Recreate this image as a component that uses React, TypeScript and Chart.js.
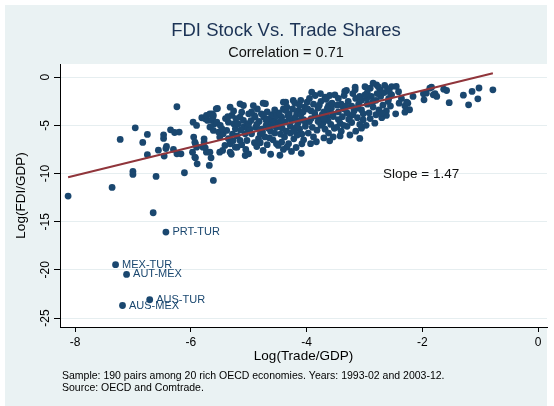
import React, { useEffect, useRef } from "react";
import { Chart, registerables } from "chart.js";

Chart.register(...registerables);

const xTickValues = [-8, -6, -4, -2, 0];
const yTickValues = [0, -5, -10, -15, -20, -25];

const labeledNames = ["PRT-TUR", "MEX-TUR", "AUT-MEX", "AUS-TUR", "AUS-MEX"];
const labeledX = [-6.43, -7.3, -7.11, -6.71, -7.18];
const labeledY = [-16.08, -19.46, -20.47, -23.1, -23.7];

const outlierPoints = [[-6.65, -14.07], [-8.12, -12.34], [-7.36, -11.44]];

const westPoints = [
  [-7.22, -6.46], [-6.96, -5.25], [-6.83, -6.77], [-6.75, -5.94], [-6.75, -8.05], [-7.0, -9.78],
  [-7.0, -10.09], [-6.6, -10.3], [-6.56, -7.57], [-6.47, -5.98], [-6.47, -6.36], [-6.42, -7.19],
  [-6.43, -7.4], [-6.46, -8.19], [-6.35, -5.46], [-6.28, -5.74], [-6.24, -3.07], [-6.2, -5.7],
  [-6.3, -7.5], [-6.24, -7.95], [-6.17, -7.95], [-6.11, -9.92], [-5.96, -4.67], [-5.9, -5.01],
  [-5.95, -6.22], [-5.92, -6.91], [-5.97, -7.78], [-5.92, -8.37], [-5.89, -8.99], [-5.81, -4.21],
  [-5.75, -4.32], [-5.71, -4.49], [-5.77, -6.4], [-5.77, -6.74], [-5.75, -7.33], [-5.73, -7.78],
  [-5.68, -9.16], [-5.65, -8.37], [-5.61, -10.72], [-5.63, -3.8], [-5.62, -4.15], [-5.54, -3.25],
  [-5.73, -3.97], [-5.67, -3.8], [-5.61, -3.97], [-5.56, -3.28], [-5.64, -4.49], [-5.59, -4.84],
  [-5.67, -5.18], [-5.61, -5.53], [-5.52, -5.7], [-5.5, -6.22], [-5.93, -8.3], [-5.79, -7.26],
  [-5.67, -7.78], [-5.5, -7.78], [-5.9, -7.26], [-5.55, -4.67], [-5.93, -6.74]
];

const band55to50 = [
  [-5.44, -5.87], [-5.38, -5.53], [-5.35, -6.39], [-5.32, -6.91], [-5.41, -7.08], [-5.32, -3.11],
  [-5.29, -3.97], [-5.35, -4.67], [-5.26, -4.84], [-5.23, -5.36], [-5.15, -2.76], [-5.09, -2.94],
  [-5.12, -3.63], [-5.15, -4.15], [-5.18, -4.84], [-5.09, -5.18], [-5.06, -5.87], [-5.03, -6.57],
  [-5.15, -6.57], [-5.2, -7.26], [-5.09, -4.49], [-5.0, -3.8], [-5.03, -4.84], [-5.32, -7.78],
  [-5.23, -7.26], [-5.06, -8.13], [-5.49, -5.01], [-5.46, -5.36], [-5.45, -7.6], [-5.3, -8.0],
  [-5.4, -4.3], [-5.28, -5.9], [-5.2, -6.1], [-5.12, -7.0], [-5.26, -3.5], [-5.05, -7.5],
  [-5.36, -4.1], [-5.22, -4.3], [-5.14, -5.5], [-5.02, -5.3], [-5.27, -6.6]
];

const band50to45 = [
  [-4.75, -2.7], [-4.78, -3.8], [-4.89, -4.15], [-4.55, -4.49], [-4.66, -4.84], [-5.0, -7.95],
  [-4.83, -6.39], [-4.95, -5.87], [-4.71, -2.75], [-4.96, -4.5], [-4.9, -4.0], [-4.82, -4.6],
  [-4.88, -5.2], [-4.78, -5.4], [-4.7, -5.0], [-4.64, -4.3], [-4.6, -3.9], [-4.55, -3.4],
  [-4.68, -3.6], [-4.85, -3.3], [-4.92, -2.95], [-4.8, -5.9], [-4.72, -6.2], [-4.62, -5.6],
  [-4.58, -6.5], [-4.68, -7.0], [-4.9, -6.8], [-4.75, -7.6], [-4.62, -8.0], [-4.52, -5.2],
  [-4.55, -5.8], [-4.98, -5.4], [-4.86, -7.2], [-4.6, -4.7], [-4.74, -4.1], [-4.52, -4.0],
  [-4.66, -5.3], [-4.95, -3.6], [-4.8, -6.8], [-5.0, -4.84], [-4.86, -4.9], [-4.7, -4.45],
  [-4.57, -5.0], [-4.76, -5.7], [-4.64, -6.3], [-4.52, -6.9]
];

const band45to40 = [
  [-4.4, -2.59], [-4.4, -3.28], [-4.23, -2.42], [-4.36, -2.6], [-4.2, -2.7], [-4.1, -2.4],
  [-4.36, -3.45], [-4.3, -3.8], [-4.14, -3.46], [-4.17, -3.8], [-4.03, -3.11], [-3.99, -2.59],
  [-4.43, -4.15], [-4.37, -4.67], [-4.31, -6.91], [-4.43, -6.74], [-4.49, -7.08], [-4.34, -7.26],
  [-4.08, -6.91], [-4.46, -8.1], [-4.09, -7.9], [-4.48, -4.9], [-4.42, -5.3], [-4.35, -5.6],
  [-4.28, -5.1], [-4.25, -4.5], [-4.2, -4.2], [-4.15, -4.8], [-4.12, -5.4], [-4.08, -5.9],
  [-4.05, -4.4], [-4.32, -4.0], [-4.38, -6.2], [-4.22, -6.4], [-4.16, -6.0], [-4.28, -5.8],
  [-4.45, -5.9], [-4.1, -3.9], [-4.02, -5.1], [-4.18, -7.3], [-4.26, -7.7], [-4.4, -7.5],
  [-4.05, -6.5], [-4.34, -3.1], [-4.47, -3.7], [-4.12, -2.9], [-4.24, -3.3], [-4.02, -4.7],
  [-4.3, -4.3], [-4.18, -5.2], [-4.06, -3.6], [-4.44, -4.5], [-4.22, -5.6], [-4.12, -4.5]
];

const band40to35 = [
  [-3.91, -1.55], [-3.68, -2.07], [-3.6, -1.9], [-3.62, -2.94], [-3.83, -6.7], [-3.54, -6.2],
  [-3.51, -1.83], [-3.54, -4.08], [-3.95, -2.2], [-3.88, -2.8], [-3.8, -3.2], [-3.75, -2.5],
  [-3.7, -3.6], [-3.92, -3.5], [-3.85, -4.0], [-3.78, -4.3], [-3.72, -4.8], [-3.65, -4.1],
  [-3.6, -3.5], [-3.56, -2.7], [-3.95, -4.6], [-3.9, -5.2], [-3.82, -5.5], [-3.75, -5.0],
  [-3.68, -5.4], [-3.62, -5.8], [-3.58, -4.9], [-3.97, -5.8], [-3.88, -6.2], [-3.7, -6.3],
  [-3.66, -2.3], [-3.85, -1.9], [-3.76, -1.7], [-3.57, -3.2], [-3.52, -5.3], [-3.98, -3.3],
  [-3.8, -4.6], [-3.63, -4.5], [-3.73, -3.9], [-3.93, -6.9], [-3.6, -6.6], [-3.86, -3.7],
  [-3.7, -4.3], [-3.55, -3.8], [-3.92, -4.3], [-3.78, -2.9], [-3.64, -3.2]
];

const band35to30 = [
  [-3.34, -1.48], [-3.16, -1.31], [-3.25, -4.08], [-3.42, -4.77], [-3.05, -5.29], [-3.02, -4.42],
  [-3.08, -6.36], [-3.31, -1.38], [-3.16, -1.04], [-3.45, -2.2], [-3.4, -2.8], [-3.35, -3.3],
  [-3.28, -2.5], [-3.22, -3.0], [-3.15, -2.2], [-3.1, -2.8], [-3.05, -3.4], [-3.45, -3.6],
  [-3.38, -4.1], [-3.3, -3.7], [-3.2, -3.9], [-3.12, -4.2], [-3.48, -5.2], [-3.4, -5.6],
  [-3.3, -5.1], [-3.22, -4.7], [-3.15, -5.6], [-3.08, -4.9], [-3.25, -6.0], [-3.42, -6.1],
  [-3.35, -1.9], [-3.2, -1.7], [-3.05, -2.4], [-3.47, -2.9], [-3.12, -3.2], [-3.27, -4.4],
  [-3.02, -3.8], [-3.38, -3.0], [-3.45, -4.4], [-3.32, -3.0], [-3.18, -3.5], [-3.08, -2.0],
  [-3.36, -5.0]
];

const band30to25 = [
  [-2.79, -0.79], [-2.85, -0.62], [-2.9, -1.14], [-2.73, -1.31], [-2.53, -0.97], [-2.53, -1.83],
  [-2.59, -2.52], [-2.82, -4.77], [-2.99, -0.99], [-2.95, -1.6], [-2.88, -2.0], [-2.8, -2.4],
  [-2.72, -2.0], [-2.66, -1.6], [-2.6, -1.2], [-2.95, -2.8], [-2.85, -3.1], [-2.75, -3.4],
  [-2.68, -2.9], [-2.62, -3.5], [-2.55, -3.0], [-2.92, -3.7], [-2.8, -3.9], [-2.7, -4.2],
  [-2.9, -4.3], [-2.97, -5.0], [-2.62, -3.97], [-2.78, -1.7], [-2.65, -0.85], [-2.96, -2.2],
  [-2.58, -2.2], [-2.99, -1.83], [-2.86, -2.6], [-2.7, -3.7], [-2.57, -1.5], [-2.76, -1.0]
];

const eastPoints = [
  [-2.4, -2.7], [-2.25, -2.7], [-2.22, -3.38], [-2.46, -3.8], [-2.41, -1.5], [-2.36, -2.2],
  [-2.3, -3.0], [-2.27, -2.6], [-2.3, -3.63], [-2.16, -2.0], [-2.45, -0.96], [-1.98, -1.72],
  [-1.97, -2.35], [-1.93, -1.66], [-1.87, -1.14], [-1.78, -1.72], [-1.81, -1.83], [-1.75, -2.0],
  [-1.84, -1.04], [-1.63, -1.24], [-1.58, -1.38], [-1.535, -2.64], [-1.29, -1.87], [-1.2, -2.87],
  [-1.14, -1.48], [-1.04, -2.24], [-1.02, -1.12], [-0.78, -1.31]
];

const fitSlope = 1.47;
const fitIntercept = 1.55;

const FONT = '"Liberation Sans", Arial, sans-serif';

export default function App() {
  const ref = useRef<HTMLCanvasElement>(null);

  useEffect(() => {
    document.body.style.margin = "0";
    const canvas = ref.current;
    if (!canvas) return;

    const labeledPoints = labeledX.map((x, i) => [x, labeledY[i]]);
    const all = [
      ...labeledPoints, ...outlierPoints, ...westPoints, ...band55to50, ...band50to45,
      ...band45to40, ...band40to35, ...band35to30, ...band30to25, ...eastPoints
    ];
    const xs = all.map((p) => p[0]);
    const minX = Math.min(...xs);
    const maxX = Math.max(...xs);

    const bgPlugin = {
      id: "bg",
      beforeDraw(chart: any) {
        const { ctx, chartArea } = chart;
        ctx.save();
        ctx.fillStyle = "#ffffff";
        ctx.fillRect(0, 0, chart.width, chart.height);
        ctx.fillStyle = "#EAF2F3";
        ctx.fillRect(5, 5, 542, chart.height - 5);
        ctx.fillStyle = "#ffffff";
        ctx.fillRect(chartArea.left, chartArea.top, chartArea.right - chartArea.left, chartArea.bottom - chartArea.top);
        ctx.restore();
      },
    };

    const textPlugin = {
      id: "texts",
      afterDraw(chart: any) {
        const { ctx, chartArea, scales } = chart;
        const xs2 = scales.x;
        const ys2 = scales.y;
        ctx.save();
        ctx.textBaseline = "middle";
        ctx.textAlign = "center";
        ctx.fillStyle = "#1C3355";
        ctx.font = `18.5px ${FONT}`;
        ctx.fillText("FDI Stock Vs. Trade Shares", 286, 31);
        ctx.fillStyle = "#111111";
        ctx.font = `14.5px ${FONT}`;
        ctx.fillText("Correlation = 0.71", 286, 53);
        ctx.font = `13.5px ${FONT}`;
        ctx.fillStyle = "#000000";
        ctx.fillText("Log(Trade/GDP)", (chartArea.left + chartArea.right) / 2, 356);
        ctx.save();
        ctx.translate(21, (chartArea.top + chartArea.bottom) / 2);
        ctx.rotate(-Math.PI / 2);
        ctx.fillText("Log(FDI/GDP)", 0, 0);
        ctx.restore();
        ctx.font = `12px ${FONT}`;
        yTickValues.forEach((v) => {
          const py = ys2.getPixelForValue(v);
          ctx.save();
          ctx.translate(46, py);
          ctx.rotate(-Math.PI / 2);
          ctx.fillText(String(v), 0, 0);
          ctx.restore();
        });
        ctx.font = `13.5px ${FONT}`;
        ctx.fillStyle = "#111111";
        ctx.fillText("Slope = 1.47", xs2.getPixelForValue(-2.02), ys2.getPixelForValue(-10.09));
        ctx.textAlign = "left";
        ctx.font = `11px ${FONT}`;
        ctx.fillStyle = "#1A476F";
        labeledNames.forEach((name, i) => {
          const px = xs2.getPixelForValue(labeledX[i]);
          const py = ys2.getPixelForValue(labeledY[i]);
          ctx.fillText(name, px + 6.5, py);
        });
        ctx.font = `10.5px ${FONT}`;
        ctx.fillStyle = "#000000";
        ctx.fillText("Sample: 190 pairs among 20 rich OECD economies. Years: 1993-02 and 2003-12.", 62, 376);
        ctx.fillText("Source: OECD and Comtrade.", 62, 388);
        ctx.restore();
      },
    };

    const chart = new Chart(canvas, {
      type: "scatter",
      data: {
        datasets: [
          {
            type: "line",
            data: [
              { x: minX, y: fitSlope * minX + fitIntercept },
              { x: maxX, y: fitSlope * maxX + fitIntercept },
            ],
            borderColor: "#90353B",
            borderWidth: 2,
            pointRadius: 0,
            fill: false,
          } as any,
          {
            data: all.map(([x, y]) => ({ x, y })),
            backgroundColor: "#1A476F",
            borderColor: "#1A476F",
            borderWidth: 0,
            pointRadius: 3.4,
          },
        ],
      },
      options: {
        responsive: false,
        animation: false,
        devicePixelRatio: 1,
        layout: { padding: { left: 0, right: 7, top: 64, bottom: 0 } },
        plugins: { legend: { display: false }, tooltip: { enabled: false }, title: { display: false } },
        scales: {
          x: {
            type: "linear",
            min: -8.26,
            max: 0.155,
            afterBuildTicks: (s: any) => {
              s.ticks = xTickValues.map((v) => ({ value: v }));
            },
            afterFit: (s: any) => {
              s.height = 79;
            },
            grid: { drawOnChartArea: false, drawTicks: true, tickLength: 5, tickColor: "#000000" },
            border: { color: "#000000", width: 1 },
            ticks: { color: "#000000", font: { family: FONT, size: 12 }, padding: 3, maxRotation: 0, autoSkip: false },
          },
          y: {
            type: "linear",
            min: -25.93,
            max: 1.37,
            afterBuildTicks: (s: any) => {
              s.ticks = yTickValues.map((v) => ({ value: v }));
            },
            afterFit: (s: any) => {
              s.width = 60;
            },
            grid: { color: "#E6EEF0", lineWidth: 1, drawTicks: true, tickLength: 6, tickColor: "#000000" },
            border: { color: "#000000", width: 1 },
            ticks: { display: false },
          },
        },
      },
      plugins: [bgPlugin, textPlugin],
    });

    return () => chart.destroy();
  }, []);

  return (
    <div style={{ width: 554, height: 406 }}>
      <canvas ref={ref} width={554} height={406} style={{ display: "block" }} />
    </div>
  );
}
